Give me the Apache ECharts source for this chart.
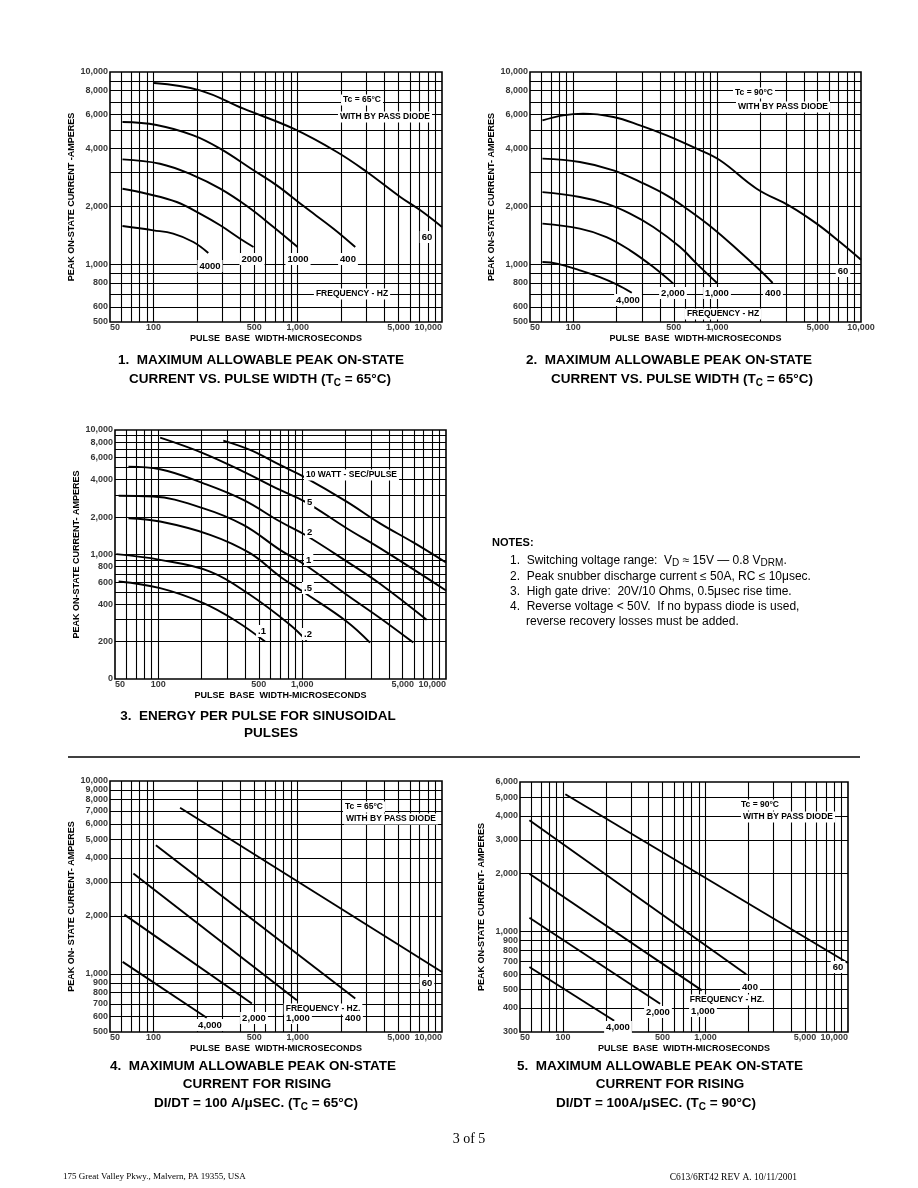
<!DOCTYPE html>
<html>
<head>
<meta charset="utf-8">
<script src="https://cdn.jsdelivr.net/npm/echarts@6/dist/echarts.min.js"></script>
<style>
html,body{margin:0;padding:0;background:#fff;}
#c{width:918px;height:1188px;}
</style>
</head>
<body>
<div id="c"></div>
<script>
// ---------------- DATA ----------------
const xTickVals = [50, 100, 500, 1000, 5000, 10000];
const xTickText = ['50', '100', '500', '1,000', '5,000', '10,000'];
const xGridVals = [60,70,80,90,100,200,300,400,500,600,700,800,900,1000,2000,3000,4000,5000,6000,7000,8000,9000];

// Chart 1 & 2 y axis
const yTickVals12 = [500, 600, 800, 1000, 2000, 4000, 6000, 8000, 10000];
const yTickText12 = ['500', '600', '800', '1,000', '2,000', '4,000', '6,000', '8,000', '10,000'];
const yGridVals12 = [600,700,800,900,1000,2000,3000,4000,5000,6000,7000,8000,9000];

// Chart 3 y axis (bottom value labelled "0")
const yTickVals3 = [100, 200, 400, 600, 800, 1000, 2000, 4000, 6000, 8000, 10000];
const yTickText3 = ['0', '200', '400', '600', '800', '1,000', '2,000', '4,000', '6,000', '8,000', '10,000'];
const yGridVals3 = [200,300,400,500,600,700,800,900,1000,2000,3000,4000,5000,6000,7000,8000,9000];

// Chart 4 y axis
const yTickVals4 = [500,600,700,800,900,1000,2000,3000,4000,5000,6000,7000,8000,9000,10000];
const yTickText4 = ['500','600','700','800','900','1,000','2,000','3,000','4,000','5,000','6,000','7,000','8,000','9,000','10,000'];
const yGridVals4 = [600,700,800,900,1000,2000,3000,4000,5000,6000,7000,8000,9000];

// Chart 5 y axis
const yTickVals5 = [300,400,500,600,700,800,900,1000,2000,3000,4000,5000,6000];
const yTickText5 = ['300','400','500','600','700','800','900','1,000','2,000','3,000','4,000','5,000','6,000'];
const yGridVals5 = [400,500,600,700,800,900,1000,2000,3000,4000,5000];

// Chart 1: Tc = 65 C, frequency curves (Hz)
const c1_60   = [[101,8770],[210,8030],[421,6445],[935,5070],[1870,3834],[3019,3017],[5140,2236],[7080,1906],[10000,1561]];
const c1_400  = [[61,5490],[105,5300],[189,4680],[290,3990],[494,3080],[716,2570],[1097,2005],[1771,1530],[2505,1228]];
const c1_1000 = [[61,3510],[111,3330],[189,2900],[290,2470],[444,2005],[679,1561],[998,1228]];
const c1_2000 = [[61,2470],[90,2326],[145,2106],[210,1832],[290,1593],[399,1357],[494,1228]];
const c1_4000 = [[61,1580],[100,1500],[137,1441],[189,1304],[240,1143]];

// Chart 2: Tc = 90 C
const c2_60   = [[61,5600],[85,5950],[117,6070],[190,5830],[291,5280],[446,4680],[720,3990],[1046,3470],[1881,2470],[3206,2005],[4915,1625],[7140,1304],[10000,1055]];
const c2_400  = [[61,3540],[111,3400],[190,3080],[291,2680],[446,2280],[614,1944],[941,1530],[1442,1157],[1985,929],[2431,798]];
const c2_1000 = [[61,2370],[111,2236],[170,2064],[248,1832],[360,1561],[552,1228],[720,1006],[998,798]];
const c2_2000 = [[61,1625],[111,1530],[170,1384],[248,1180],[360,966],[496,792]];
const c2_4000 = [[61,1026],[77,1006],[111,929],[153,857],[200,785],[255,710]];

// Chart 3: energy per pulse (watt-sec/pulse)
const c3_10  = [[283,8210],[434,6910],[701,5240],[1046,4170],[2038,2660],[3476,1780],[5925,1250],[10000,862]];
const c3_5   = [[103,8680],[206,6500],[390,4630],[701,3300],[1046,2660],[2038,1626],[3476,1124],[10000,514]];
const c3_2   = [[62,5080],[103,4840],[206,3730],[390,2745],[701,1840],[1046,1440],[2038,880],[3476,582],[7334,299]];
const c3_1   = [[53,2960],[92,2920],[206,2350],[390,1730],[701,1090],[1046,826],[2038,475],[3476,309],[5925,196]];
const c3_05  = [[62,1956],[103,1840],[229,1440],[434,1025],[701,666],[1046,490],[2038,290],[2961,196]];
const c3_02  = [[51,1006],[103,906],[229,730],[434,475],[823,273],[1075,203]];
const c3_01  = [[53,607],[103,537],[206,407],[351,290],[552,200]];

// Chart 4: di/dt = 100 A/us, Tc = 65 C
const c4_60   = [[153,7270],[10000,1024]];
const c4_400  = [[104,4650],[2505,746]];
const c4_1000 = [[72.6,3320],[986,730]];
const c4_2000 = [[62.9,2030],[481,702]];
const c4_4000 = [[61.2,1155],[234,593]];

// Chart 5: di/dt = 100 A/us, Tc = 90 C
const c5_60   = [[104,5180],[10000,686]];
const c5_400  = [[58.2,3790],[1932,599]];
const c5_1000 = [[58.2,2000],[943,494]];
const c5_2000 = [[58.2,1180],[481,421]];
const c5_4000 = [[58.2,654],[229,343]];

// ---------------- BUILD ----------------
const FONT = '"Liberation Sans", Arial, Helvetica, sans-serif';
const SERIF = '"Liberation Serif", "Times New Roman", serif';

const charts = [
  {box:[110,72,332,250], y:[500,10000], yT:yTickVals12, yL:yTickText12, yG:yGridVals12,
   yName:'PEAK ON-STATE CURRENT -AMPERES', curves:[c1_60,c1_400,c1_1000,c1_2000,c1_4000], smooth:true, lastCenter:false},
  {box:[530,72,331,250], y:[500,10000], yT:yTickVals12, yL:yTickText12, yG:yGridVals12,
   yName:'PEAK ON-STATE CURRENT- AMPERES', curves:[c2_60,c2_400,c2_1000,c2_2000,c2_4000], smooth:true, lastCenter:true},
  {box:[115,430,331,249], y:[100,10000], yT:yTickVals3, yL:yTickText3, yG:yGridVals3,
   yName:'PEAK ON-STATE CURRENT- AMPERES', curves:[c3_10,c3_5,c3_2,c3_1,c3_05,c3_02,c3_01], smooth:true, lastCenter:false},
  {box:[110,781,332,251], y:[500,10000], yT:yTickVals4, yL:yTickText4, yG:yGridVals4,
   yName:'PEAK ON- STATE CURRENT- AMPERES', curves:[c4_60,c4_400,c4_1000,c4_2000,c4_4000], smooth:false, lastCenter:false},
  {box:[520,782,328,250], y:[300,6000], yT:yTickVals5, yL:yTickText5, yG:yGridVals5,
   yName:'PEAK ON-STATE CURRENT- AMPERES', curves:[c5_60,c5_400,c5_1000,c5_2000,c5_4000], smooth:false, lastCenter:false}
];

const grids = [], xAxes = [], yAxes = [], series = [];
const nameStyle = {fontFamily: FONT, fontSize: 9, fontWeight: 'bold', color: '#000'};
const tickStyle = {fontFamily: FONT, fontSize: 9, fontWeight: 'bold', color: '#000'};

charts.forEach((c, i) => {
  grids.push({left:c.box[0], top:c.box[1], width:c.box[2], height:c.box[3], show:true,
    borderColor:'#000', borderWidth:1.6, backgroundColor:'transparent', containLabel:false});
  xAxes.push({gridIndex:i, type:'log', logBase:10, min:50, max:10000,
    axisLine:{show:false}, axisTick:{show:false}, axisLabel:{show:false}, splitLine:{show:false},
    name:'PULSE  BASE  WIDTH-MICROSECONDS', nameLocation:'middle', nameGap:12, nameTextStyle:nameStyle});
  yAxes.push({gridIndex:i, type:'log', logBase:10, min:c.y[0], max:c.y[1],
    axisLine:{show:false}, axisTick:{show:false}, axisLabel:{show:false}, splitLine:{show:false},
    name:c.yName, nameLocation:'middle', nameGap:34, nameRotate:90, nameTextStyle:nameStyle});

  // grid lines (drawn through the axes' own log scales)
  series.push({type:'line', xAxisIndex:i, yAxisIndex:i, data:[], silent:true, animation:false,
    markLine:{silent:true, animation:false, symbol:['none','none'], label:{show:false},
      emphasis:{disabled:true},
      lineStyle:{color:'#000', width:1.1, type:'solid', opacity:1},
      data:[...xGridVals.map(v => ({xAxis:v})), ...c.yG.map(v => ({yAxis:v}))]}});

  // y tick labels
  series.push({type:'scatter', xAxisIndex:i, yAxisIndex:i, clip:false, silent:true, animation:false,
    symbolSize:0.1, itemStyle:{color:'rgba(0,0,0,0)'},
    label:{show:true, position:'left', distance:2, ...tickStyle},
    data:c.yT.map((v, k) => ({value:[50, v], label:{formatter:c.yL[k]}}))});
  // x tick labels
  series.push({type:'scatter', xAxisIndex:i, yAxisIndex:i, clip:false, silent:true, animation:false,
    symbolSize:0.1, itemStyle:{color:'rgba(0,0,0,0)'},
    label:{show:true, position:'bottom', distance:1, ...tickStyle},
    data:xTickVals.map((v, k) => {
      const lab = {formatter:xTickText[k]};
      if (k === 0) lab.align = 'left';
      if (k === xTickVals.length - 1 && !c.lastCenter) lab.align = 'right';
      return {value:[v, c.y[0]], label:lab};
    })});

  c.curves.forEach(arr => {
    series.push({type:'line', xAxisIndex:i, yAxisIndex:i, data:arr, silent:true, animation:false,
      smooth:c.smooth ? 0.4 : false, symbol:'none', clip:true,
      lineStyle:{color:'#000', width:1.9}});
  });
});

// ---------------- TEXT / ANNOTATIONS ----------------
function T(x, y, text, o) {
  o = o || {};
  const size = o.s || 9;
  const weight = o.w || 'bold';
  const fam = o.f || FONT;
  const st = {
    text: text, font: weight + ' ' + size + 'px ' + fam, fill: '#000',
    align: o.a || 'center', verticalAlign: 'middle',
    textAlign: o.a || 'center', textVerticalAlign: 'middle'
  };
  if (o.bg) { st.backgroundColor = '#fff'; st.padding = [1, 2]; }
  if (o.rich) { st.rich = o.rich; st.lineHeight = o.lh || 18; }
  return {type:'text', x:x, y:y, z:100, silent:true, style:st};
}
const subT = {s:{fontSize:10, fontWeight:'bold', fontFamily:FONT, lineHeight:10, verticalAlign:'bottom'}};
const subN = {s:{fontSize:10, fontWeight:'normal', fontFamily:FONT, lineHeight:10, verticalAlign:'bottom'}};

const A = 8.5;  // annotation font size
const NS = 12;  // notes font size
const TS = 13.5; // title font size
const graphics = [
  // chart 1
  T(362,100,'Tc = 65°C',{s:A,bg:true}),
  T(385,117,'WITH BY PASS DIODE',{s:A,bg:true}),
  T(427,237,'60',{s:A+1,bg:true}),
  T(348,259,'400',{s:A+1,bg:true}),
  T(298,259,'1000',{s:A+1,bg:true}),
  T(252,259,'2000',{s:A+1,bg:true}),
  T(210,266,'4000',{s:A+1,bg:true}),
  T(352,294,'FREQUENCY - HZ',{s:A,bg:true}),
  // chart 2
  T(754,93,'Tc = 90°C',{s:A,bg:true}),
  T(783,107,'WITH BY PASS DIODE',{s:A,bg:true}),
  T(843,271,'60',{s:A+1,bg:true}),
  T(773,293,'400',{s:A+1,bg:true}),
  T(717,293,'1,000',{s:A+1,bg:true}),
  T(673,293,'2,000',{s:A+1,bg:true}),
  T(628,300,'4,000',{s:A+1,bg:true}),
  T(723,314,'FREQUENCY - HZ',{s:A,bg:true}),
  // chart 3
  T(304,475,'10 WATT - SEC/PULSE',{s:A,a:'left',bg:true}),
  T(305,502,'5',{s:A+1,a:'left',bg:true}),
  T(305,532,'2',{s:A+1,a:'left',bg:true}),
  T(304,560,'1',{s:A+1,a:'left',bg:true}),
  T(302,588,'.5',{s:A+1,a:'left',bg:true}),
  T(302,634,'.2',{s:A+1,a:'left',bg:true}),
  T(262,631,'.1',{s:A+1,bg:true}),
  // chart 4
  T(364,807,'Tc = 65°C',{s:A,bg:true}),
  T(391,819,'WITH BY PASS DIODE',{s:A,bg:true}),
  T(427,983,'60',{s:A+1,bg:true}),
  T(323,1009,'FREQUENCY - HZ.',{s:A,bg:true}),
  T(353,1018,'400',{s:A+1,bg:true}),
  T(298,1018,'1,000',{s:A+1,bg:true}),
  T(254,1018,'2,000',{s:A+1,bg:true}),
  T(210,1025,'4,000',{s:A+1,bg:true}),
  // chart 5
  T(760,805,'Tc = 90°C',{s:A,bg:true}),
  T(788,817,'WITH BY PASS DIODE',{s:A,bg:true}),
  T(838,967,'60',{s:A+1,bg:true}),
  T(750,987,'400',{s:A+1,bg:true}),
  T(727,1000,'FREQUENCY - HZ.',{s:A,bg:true}),
  T(703,1011,'1,000',{s:A+1,bg:true}),
  T(658,1012,'2,000',{s:A+1,bg:true}),
  T(618,1027,'4,000',{s:A+1,bg:true}),

  // titles
  T(261,360,'1.  MAXIMUM ALLOWABLE PEAK ON-STATE',{s:TS}),
  T(260,379,'CURRENT VS. PULSE WIDTH (T{s|C} = 65°C)',{s:TS,rich:subT}),
  T(669,360,'2.  MAXIMUM ALLOWABLE PEAK ON-STATE',{s:TS}),
  T(682,379,'CURRENT VS. PULSE WIDTH (T{s|C} = 65°C)',{s:TS,rich:subT}),
  T(258,716,'3.  ENERGY PER PULSE FOR SINUSOIDAL',{s:TS}),
  T(271,733,'PULSES',{s:TS}),
  T(253,1066,'4.  MAXIMUM ALLOWABLE PEAK ON-STATE',{s:TS}),
  T(257,1084,'CURRENT FOR RISING',{s:TS}),
  T(256,1103,'DI/DT = 100 A/μSEC. (T{s|C} = 65°C)',{s:TS,rich:subT}),
  T(660,1066,'5.  MAXIMUM ALLOWABLE PEAK ON-STATE',{s:TS}),
  T(670,1084,'CURRENT FOR RISING',{s:TS}),
  T(656,1103,'DI/DT = 100A/μSEC. (T{s|C} = 90°C)',{s:TS,rich:subT}),

  // separator
  {type:'line', z:100, silent:true, shape:{x1:68, y1:757, x2:860, y2:757}, style:{stroke:'#000', lineWidth:1.5}},

  // notes
  T(492,543,'NOTES:',{s:11,a:'left'}),
  T(510,561,'1.  Switching voltage range:  V{s|D} ≈ 15V — 0.8 V{s|DRM}.',{s:NS,w:'normal',a:'left',rich:subN,lh:15}),
  T(510,577,'2.  Peak snubber discharge current ≤ 50A, RC ≤ 10μsec.',{s:NS,w:'normal',a:'left'}),
  T(510,592,'3.  High gate drive:  20V/10 Ohms, 0.5μsec rise time.',{s:NS,w:'normal',a:'left'}),
  T(510,607,'4.  Reverse voltage < 50V.  If no bypass diode is used,',{s:NS,w:'normal',a:'left'}),
  T(526,622,'reverse recovery losses must be added.',{s:NS,w:'normal',a:'left'}),

  // footer
  T(469,1139,'3 of 5',{s:14,w:'normal',f:SERIF}),
  T(63,1177,'175 Great Valley Pkwy., Malvern, PA 19355, USA',{s:9,w:'normal',a:'left',f:SERIF}),
  T(797,1177,'C613/6RT42 REV A. 10/11/2001',{s:9.5,w:'normal',a:'right',f:SERIF})
];

const chart = echarts.init(document.getElementById('c'), null, {renderer:'canvas'});
chart.setOption({
  animation:false,
  backgroundColor:'#fff',
  grid:grids, xAxis:xAxes, yAxis:yAxes, series:series,
  graphic:{elements:graphics}
});
</script>
</body>
</html>
